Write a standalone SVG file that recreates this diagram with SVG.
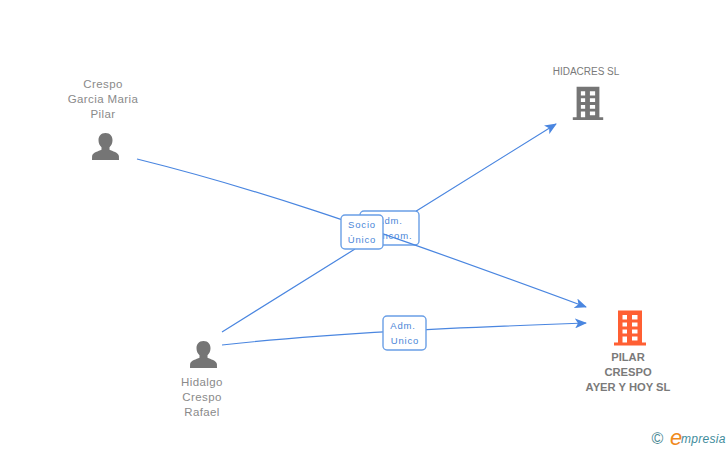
<svg xmlns="http://www.w3.org/2000/svg" width="728" height="450" viewBox="0 0 728 450">
<style>
text{font-family:"Liberation Sans",Arial,sans-serif}
.n{font-size:11.5px;fill:#8a8a8a;text-anchor:middle;letter-spacing:.4px}
.b{font-size:11.2px;fill:#7a7a7a;text-anchor:middle;font-weight:bold}
.l{font-size:9.5px;fill:#4a86d8;text-anchor:middle;letter-spacing:.8px}
.c{fill:none;stroke:#4a86e0;stroke-width:1.2}
.box{fill:#fff;stroke:#6a9fe6;stroke-width:1.4}
</style>
<defs>
<marker id="a" viewBox="0 0 12 10" refX="11" refY="5" markerWidth="12" markerHeight="10" markerUnits="userSpaceOnUse" orient="auto"><path d="M0 0L12 5L0 10L3 5Z" fill="#4a86e0"/></marker>
<path id="person" fill="#757575" d="M0-21c-4.800 0-7 3.300-7 7.300 0 3 1.100 5.300 3 7v2.400c-2.800 1.600-8.900 2.500-9.400 6.300L-13.500 6H13.500L13.400 2c-.5-3.800-6.600-4.700-9.400-6.300v-2.400c1.900-1.700 3-4 3-7 0-4-2.200-7.300-7-7.300z"/>
<path id="bld" fill-rule="evenodd" d="M-12-17H12V15H16V18H-16V15H-12ZM-7.500-12.500V-8H-3V-12.500ZM2-12.500V-8H7.500V-12.500ZM-7.500-5V-1H-3V-5ZM2-5V-1H7.500V-5ZM-7.500 2V6H-3V2ZM2 2V6H7.500V2ZM-7.500 9V15H-3V9ZM2 9V13H7.500V9Z"/>
</defs>
<g id="edge-adm-mancom"><rect class="box" x="360" y="211" width="59" height="34" rx="4"/><text class="l" x="390" y="224">Adm.</text><text class="l" x="390" y="239">Mancom.</text></g>
<g id="connectors">
<path class="c" marker-end="url(#a)" d="M137 159C250 187 350 220 586 307"/>
<path class="c" marker-end="url(#a)" d="M222 332L355 249M416.300 211L556 124"/>
<path class="c" marker-end="url(#a)" d="M222 345C330 333 450 328 586 323"/>
</g>
<g id="edge-socio"><rect class="box" x="341" y="215" width="42" height="34" rx="4"/><text class="l" x="362" y="228">Socio</text><text class="l" x="362" y="243">Único</text></g>
<g id="edge-adm"><rect class="box" x="383" y="316" width="43" height="34" rx="4"/><text class="l" x="403" y="329">Adm.</text><text class="l" x="405" y="344">Unico</text></g>
<g id="node-crespo"><text class="n" x="103" y="88">Crespo</text><text class="n" x="103" y="103">Garcia Maria</text><text class="n" x="103" y="118">Pilar</text><use href="#person" x="105.500" y="154"/></g>
<g id="node-hidalgo"><use href="#person" x="203.500" y="362"/><text class="n" x="202" y="386">Hidalgo</text><text class="n" x="202" y="401">Crespo</text><text class="n" x="202" y="416">Rafael</text></g>
<g id="node-hidacres"><text x="586" y="75" font-size="10" fill="#7a7a7a" text-anchor="middle">HIDACRES SL</text><use href="#bld" transform="translate(588 103) scale(.95)" fill="#757575"/></g>
<g id="node-pilar"><use href="#bld" x="630" y="327.500" fill="#ff5f33"/><text class="b" x="628" y="361">PILAR</text><text class="b" x="628" y="376">CRESPO</text><text class="b" x="628" y="391">AYER Y HOY SL</text></g>
<g id="brand"><text x="657.500" y="444" font-size="16" fill="#4a8794" text-anchor="middle">©</text><text x="670" y="445" font-size="22" fill="#f08a1d" font-family="Liberation Serif" font-style="italic">e</text><text x="681" y="443" font-size="12" fill="#3f8c9c" font-style="italic" letter-spacing=".3">mpresia</text></g>
</svg>
